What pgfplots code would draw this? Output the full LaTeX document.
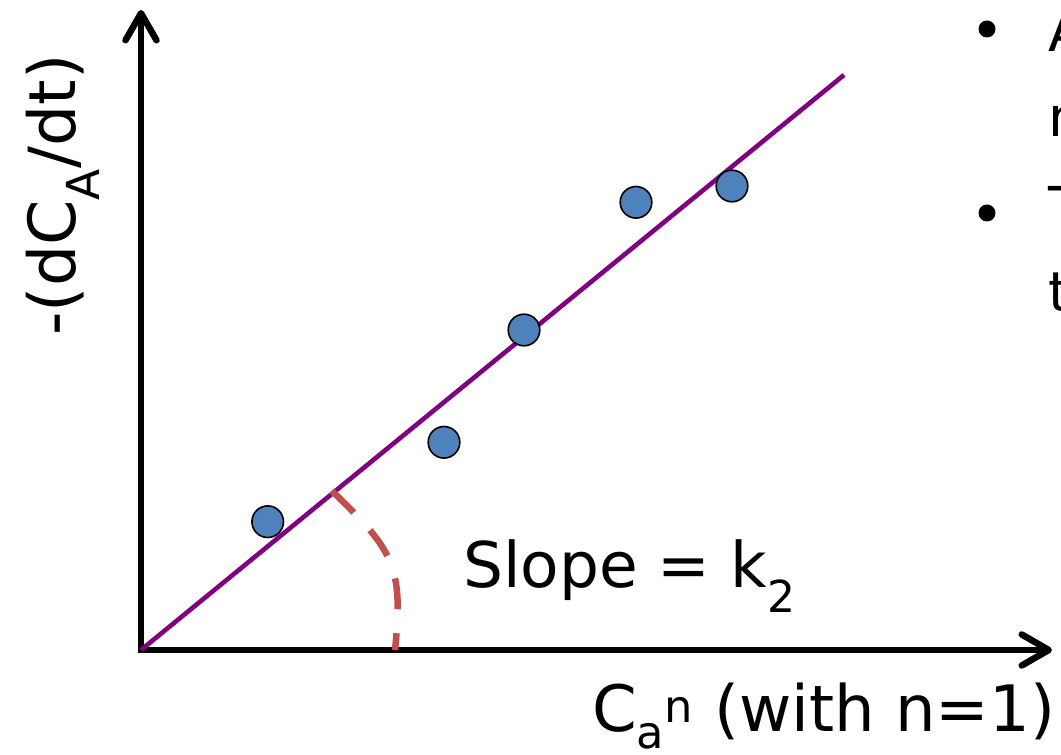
\documentclass[border=0pt]{standalone}
\usepackage{fontspec}
\setmainfont{DejaVu Sans}
\usepackage{pgfplots}
\pgfplotsset{compat=1.18}
\usetikzlibrary{arrows.meta}
\definecolor{ptblue}{HTML}{4F81BD}
\definecolor{arcred}{HTML}{C0504D}
\definecolor{lnpurple}{HTML}{800080}
\begin{document}
\begin{tikzpicture}
\useasboundingbox (0,0) rectangle (1061pt,755pt);
\clip (0,0) rectangle (1061pt,755pt);
\begin{axis}[
  at={(141pt,105pt)}, anchor=origin,
  x=1pt, y=1pt,
  xmin=-141, xmax=920, ymin=-105, ymax=650,
  axis lines=none, clip=false,
]
% axes with open arrow heads
\draw[line width=6.5pt, line join=miter,
  {Straight Barb[length=27pt,width=31pt,round]}-{Straight Barb[length=27pt,width=31pt,round]}]
  (axis cs:0,640) -- (axis cs:0,0) -- (axis cs:911,0);
% fitted line
\addplot[lnpurple, line width=4.6pt] coordinates {(0,0) (703,575)};
% data points
\addplot[only marks, mark=*, mark size=15.8pt,
  mark options={fill=ptblue, draw=black, line width=1.6pt}]
  coordinates {(126.7,128.3) (303,207.7) (383,320) (495,447.7) (591,464)};
% slope angle arc
\draw[arcred, line width=6.5pt, dash pattern=on 31pt off 24pt]
  (axis cs:190.7,159.3) .. controls +(-44:85pt) and +(84:85pt) .. (axis cs:254,0);
% texts
\node[anchor=base west, inner sep=0pt, font=\fontsize{63}{76}\selectfont]
  at (axis cs:322,62) {Slope = k\textsubscript{2}};
\node[anchor=base west, inner sep=0pt, font=\fontsize{64}{76}\selectfont]
  at (axis cs:451,-82) {C\textsubscript{a}\textsuperscript{n} (with n=1)};
\node[anchor=base, rotate=90, inner sep=0pt, font=\fontsize{65}{78}\selectfont]
  at (axis cs:-66,455) {-(dC\textsubscript{A}/dt)};
% cropped bullet text on the right
\fill (axis cs:846,621) circle[radius=8.5pt];
\fill (axis cs:846,437) circle[radius=8.5pt];
\node[anchor=base west, inner sep=0pt, font=\fontsize{55}{66}\selectfont] at (axis cs:907,598) {A};
\node[anchor=base west, inner sep=0pt, font=\fontsize{55}{66}\selectfont] at (axis cs:907,513) {n};
\node[anchor=base west, inner sep=0pt, font=\fontsize{55}{66}\selectfont] at (axis cs:907,423) {T};
\node[anchor=base west, inner sep=0pt, font=\fontsize{55}{66}\selectfont] at (axis cs:907,338) {t};
\end{axis}
\end{tikzpicture}
\end{document}
